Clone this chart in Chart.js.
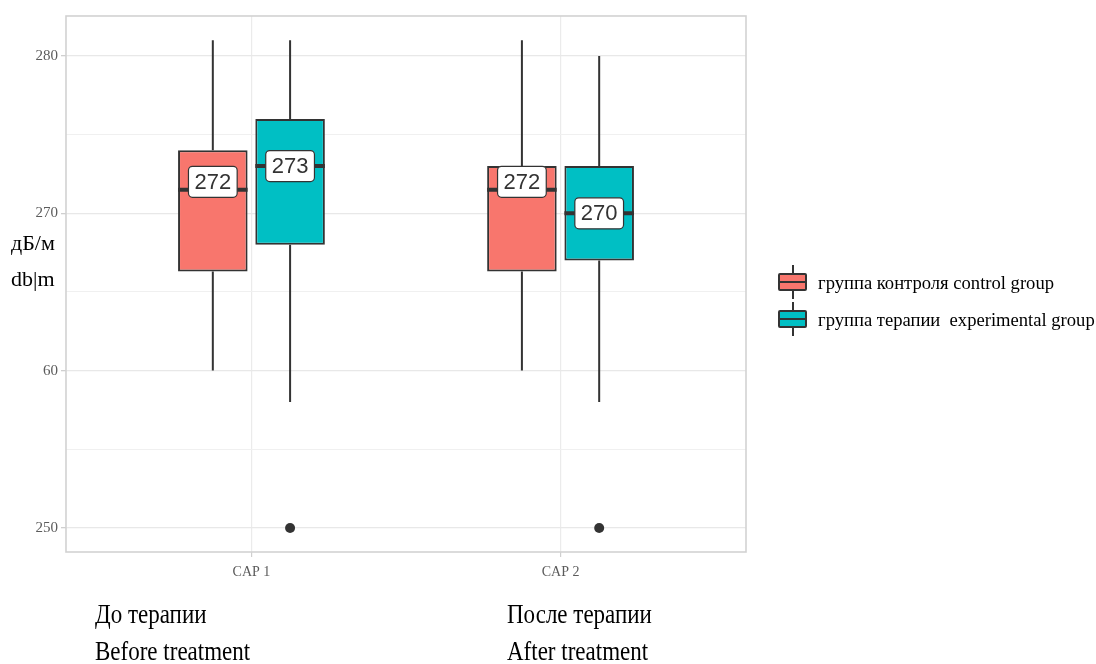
<!DOCTYPE html>
<html>
<head>
<meta charset="utf-8">
<title>CAP до и после терапии</title>
<script src="https://cdn.jsdelivr.net/npm/chart.js@4.4.1/dist/chart.umd.min.js"></script>
<style>
  html, body { margin: 0; padding: 0; background: #ffffff; }
  #wrap { position: relative; width: 1096px; height: 664px; overflow: hidden; background: #ffffff; }
  #plot { position: absolute; left: 0; top: 0; }
  .txt { position: absolute; white-space: pre; font-family: "Liberation Serif", "DejaVu Serif", serif; color: #000; }
  .ytitle { font-size: 22px; line-height: 30px; height: 30px; }
  .note { font-size: 23px; line-height: 30px; height: 30px; transform-origin: left center; transform: scaleY(1.2); }
  .legend-row { position: absolute; left: 778px; height: 34px; }
  .legend-key { position: absolute; left: 0; top: 0; width: 29px; height: 34px; }
  .legend-key .stem { position: absolute; left: 13.5px; top: 0; width: 2px; height: 34px; background: #333; }
  .legend-key .box { position: absolute; left: 0; top: 8px; width: 25px; height: 14px; border: 2px solid #333; border-radius: 2px; }
  .legend-key .mid { position: absolute; left: 0; top: 16px; width: 29px; height: 2px; background: #333; }
  .legend-label { position: absolute; left: 40px; top: 1px; height: 34px; line-height: 34px; font-size: 18.6px; }
</style>
</head>
<body>
<div id="wrap">
  <canvas id="plot" width="1096" height="664"></canvas>
</div>
<script>
// Categories along the x axis
const categories = ['CAP 1', 'CAP 2'];
const categoryNotes = [['До терапии', 'Before treatment'], ['После терапии', 'After treatment']];

// Series names
const seriesNames = ['группа контроля control group', 'группа терапии  experimental group'];
const seriesColors = ['#F8766D', '#00BFC4'];

// Control group: box-plot summaries per category
const controlLow = [260, 260];
const controlQ1 = [266.3, 266.3];
const controlMedian = [271.5, 271.5];
const controlQ3 = [274, 273];
const controlHigh = [281, 281];
const controlOutliers = [[], []];

// Therapy group: box-plot summaries per category
const therapyLow = [258, 258];
const therapyQ1 = [268, 267];
const therapyMedian = [273, 270];
const therapyQ3 = [276, 273];
const therapyHigh = [281, 280];
const therapyOutliers = [[250], [250]];

// Y axis ticks (major every 10, minor in between)
const yTickValues = [250, 255, 260, 265, 270, 275, 280];
const yTickLabels = ['250', '', '60', '', '270', '', '280'];
const yAxisTitle = ['дБ/м', 'db|m'];

const summaries = [
  { low: controlLow, q1: controlQ1, med: controlMedian, q3: controlQ3, high: controlHigh, out: controlOutliers },
  { low: therapyLow, q1: therapyQ1, med: therapyMedian, q3: therapyQ3, high: therapyHigh, out: therapyOutliers }
];

const INK = '#333333';

// Whiskers, medians, outliers, median labels and the panel frame
const boxplotExtras = {
  id: 'boxplotExtras',
  afterDatasetsDraw(chart) {
    const ctx = chart.ctx;
    const yS = chart.scales.y;
    const labels = [];
    ctx.save();
    chart.data.datasets.forEach((ds, di) => {
      const meta = chart.getDatasetMeta(di);
      const s = summaries[di];
      meta.data.forEach((bar, i) => {
        const p = bar.getProps(['x', 'width'], true);
        const x = p.x, w = p.width;
        ctx.strokeStyle = INK;
        ctx.lineCap = 'butt';
        ctx.lineWidth = 2;
        ctx.beginPath();
        ctx.moveTo(x, yS.getPixelForValue(s.q3[i]));
        ctx.lineTo(x, yS.getPixelForValue(s.high[i]));
        ctx.moveTo(x, yS.getPixelForValue(s.q1[i]));
        ctx.lineTo(x, yS.getPixelForValue(s.low[i]));
        ctx.stroke();
        const ym = yS.getPixelForValue(s.med[i]);
        ctx.lineWidth = 4;
        ctx.beginPath();
        ctx.moveTo(x - w / 2, ym);
        ctx.lineTo(x + w / 2, ym);
        ctx.stroke();
        ctx.fillStyle = INK;
        s.out[i].forEach(v => {
          ctx.beginPath();
          ctx.arc(x, yS.getPixelForValue(v), 5, 0, Math.PI * 2);
          ctx.fill();
        });
        const lv = Math.round(s.med[i]);
        labels.push({ x, y: yS.getPixelForValue(lv), text: String(lv) });
      });
    });
    // median value labels
    ctx.font = '22px "Liberation Sans", Arial, sans-serif';
    ctx.textAlign = 'center';
    ctx.textBaseline = 'middle';
    labels.forEach(l => {
      const tw = ctx.measureText(l.text).width;
      const bw = tw + 12, bh = 31;
      ctx.beginPath();
      ctx.roundRect(l.x - bw / 2, l.y - bh / 2, bw, bh, 4);
      ctx.fillStyle = '#ffffff';
      ctx.fill();
      ctx.lineWidth = 1.2;
      ctx.strokeStyle = INK;
      ctx.stroke();
      ctx.fillStyle = INK;
      ctx.fillText(l.text, l.x, l.y + 1);
    });
    // panel frame
    const a = chart.chartArea;
    ctx.strokeStyle = '#d2d2d2';
    ctx.lineWidth = 1.6;
    ctx.strokeRect(a.left, a.top, a.right - a.left, a.bottom - a.top);
    ctx.restore();
  }
};

const chart = new Chart(document.getElementById('plot'), {
  type: 'bar',
  data: {
    datasets: seriesNames.map((name, di) => ({
      label: name,
      data: categories.map((c, i) => ({ x: i + 1, y: [summaries[di].q1[i], summaries[di].q3[i]] })),
      backgroundColor: seriesColors[di],
      borderColor: INK,
      borderWidth: 2,
      borderSkipped: false,
      categoryPercentage: 0.5,
      barPercentage: 0.9
    }))
  },
  options: {
    responsive: false,
    animation: false,
    events: [],
    layout: { padding: { left: 0, right: 350, top: 16, bottom: 0 } },
    plugins: { legend: { display: false }, tooltip: { enabled: false } },
    scales: {
      x: {
        type: 'linear',
        min: 0.4,
        max: 2.6,
        offset: false,
        afterBuildTicks(scale) { scale.ticks = categories.map((c, i) => ({ value: i + 1 })); },
        afterFit(scale) { scale.height = 664 - 552; },
        ticks: {
          autoSkip: false,
          maxRotation: 0,
          padding: 7,
          color: '#5b5b5b',
          font: { family: '"Liberation Serif", serif', size: 14 },
          callback: (v, i) => categories[i]
        },
        grid: { offset: false, color: '#ebebeb', lineWidth: 1.2, tickLength: 5, tickColor: '#cfcfcf', drawTicks: true },
        border: { display: false }
      },
      y: {
        type: 'linear',
        min: 248.47,
        max: 282.54,
        afterBuildTicks(scale) { scale.ticks = yTickValues.map(v => ({ value: v })); },
        afterFit(scale) { scale.width = 66; },
        ticks: {
          autoSkip: false,
          padding: 3,
          color: '#5b5b5b',
          font: { family: '"Liberation Serif", serif', size: 15 },
          callback: (v, i) => yTickLabels[i]
        },
        grid: {
          color: c => (c.tick && c.tick.value % 10 === 0) ? '#e8e8e8' : '#f0f0f0',
          lineWidth: c => (c.tick && c.tick.value % 10 === 0) ? 1.3 : 1,
          tickLength: 5,
          tickColor: c => (c.tick && c.tick.value % 10 === 0) ? '#cfcfcf' : 'rgba(0,0,0,0)'
        },
        border: { display: false }
      }
    }
  },
  plugins: [boxplotExtras]
});

// Axis title, category notes and legend as page text
const wrap = document.getElementById('wrap');
function addText(cls, text, left, centerY) {
  const d = document.createElement('div');
  d.className = 'txt ' + cls;
  d.textContent = text;
  d.style.left = left + 'px';
  d.style.top = (centerY - 15) + 'px';
  wrap.appendChild(d);
  return d;
}
addText('ytitle', yAxisTitle[0], 11, 243);
addText('ytitle', yAxisTitle[1], 11, 279);

const noteLefts = [95, 507];
categoryNotes.forEach((lines, i) => {
  addText('note', lines[0], noteLefts[i], 615);
  addText('note', lines[1], noteLefts[i], 652);
});

seriesNames.forEach((name, di) => {
  const row = document.createElement('div');
  row.className = 'legend-row';
  row.style.top = (265 + di * 37) + 'px';
  row.innerHTML = '<div class="legend-key"><div class="stem"></div><div class="box" style="background:' +
    seriesColors[di] + '"></div><div class="mid"></div></div>';
  const lab = document.createElement('div');
  lab.className = 'txt legend-label';
  lab.textContent = name;
  row.appendChild(lab);
  wrap.appendChild(row);
});
</script>
</body>
</html>
